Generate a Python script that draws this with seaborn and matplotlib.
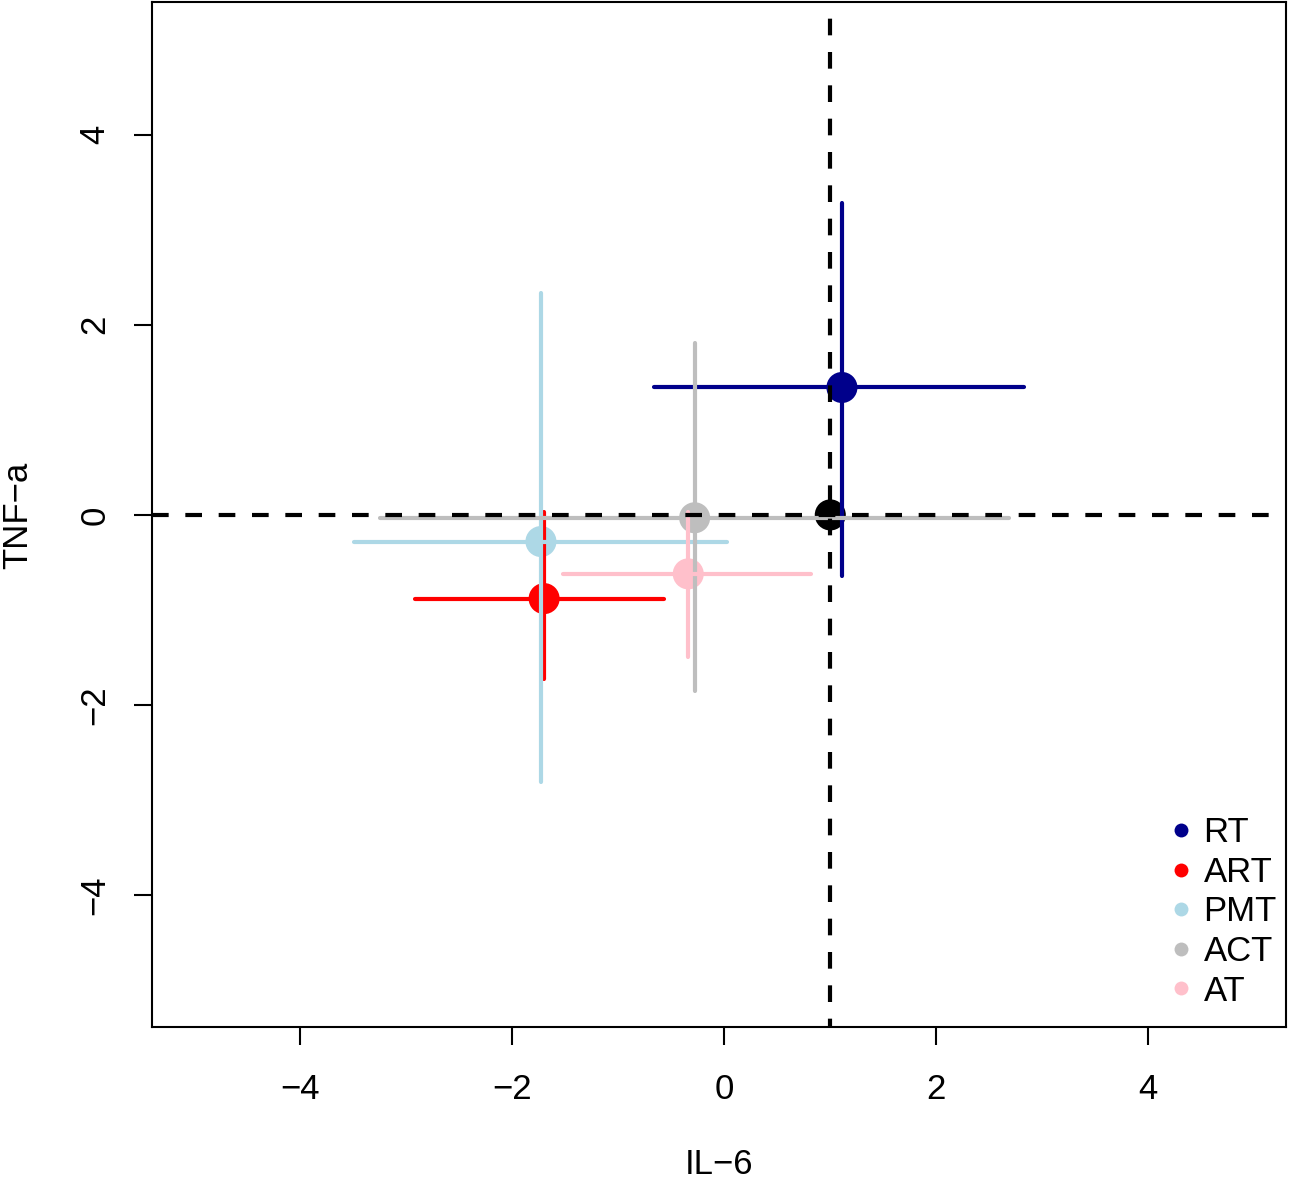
import numpy as np
import pandas as pd
import matplotlib
matplotlib.use("Agg")
import matplotlib.pyplot as plt
from matplotlib.lines import Line2D
import seaborn as sns

# group estimates with intervals (IL-6 on x, TNF-a on y)
groups = ["RT", "ART", "PMT", "ACT", "AT"]
il6 = [1.11, -1.70, -1.73, -0.28, -0.34]
il6_lo = [-0.66, -2.92, -3.49, -3.25, -1.52]
il6_hi = [2.83, -0.57, 0.03, 2.69, 0.82]
tnf = [1.34, -0.88, -0.28, -0.03, -0.62]
tnf_lo = [-0.64, -1.73, -2.81, -1.85, -1.49]
tnf_hi = [3.28, 0.03, 2.33, 1.81, 0.03]
colors = ["#00008B", "#FF0000", "#ADD8E6", "#BEBEBE", "#FFC0CB"]

# reference point
ref_x = [1.0]
ref_y = [0.0]

df = pd.DataFrame({"group": groups, "il6": il6, "tnf": tnf,
                   "il6_lo": il6_lo, "il6_hi": il6_hi,
                   "tnf_lo": tnf_lo, "tnf_hi": tnf_hi})
pal = dict(zip(groups, colors))

sns.set_style("ticks")
plt.rcParams["font.family"] = ["Liberation Sans", "DejaVu Sans"]
plt.rcParams["text.color"] = "black"
plt.rcParams["axes.labelcolor"] = "black"
plt.rcParams["xtick.color"] = "black"
plt.rcParams["ytick.color"] = "black"

fig = plt.figure(figsize=(12.99, 11.81), dpi=100)
ax = fig.add_axes([0.117, 0.130, 0.873, 0.868])

# points first
sns.scatterplot(data=df, x="il6", y="tnf", hue="group", palette=pal,
                s=500, edgecolor="none", legend=False, ax=ax, zorder=2)
ax.scatter(ref_x, ref_y, s=500, color="black", edgecolor="none", zorder=2)

# interval segments on top of points
for _, r in df.iterrows():
    c = pal[r["group"]]
    ax.hlines(r["tnf"], r["il6_lo"], r["il6_hi"], colors=c, linewidth=3,
              capstyle="round", zorder=3)
    ax.vlines(r["il6"], r["tnf_lo"], r["tnf_hi"], colors=c, linewidth=3,
              capstyle="round", zorder=3)

# reference lines
ax.axhline(0, color="black", linewidth=3, linestyle=(0, (4, 4)), zorder=4)
ax.axvline(1, color="black", linewidth=3, linestyle=(2, (4, 4)), zorder=4)

ax.set_xlim(-5.4, 5.3)
ax.set_ylim(-5.39, 5.39)
ticks = [-4, -2, 0, 2, 4]
ax.set_xticks(ticks)
ax.set_yticks(ticks)
ax.set_xticklabels([str(t).replace("-", "\u2212") for t in ticks])
ax.set_yticklabels([str(t).replace("-", "\u2212") for t in ticks],
                   rotation=90, va="center")
ax.tick_params(axis="both", length=13, width=1.5, labelsize=25,
               direction="out", color="black")
ax.tick_params(axis="x", pad=20)
ax.tick_params(axis="y", pad=16)
for sp in ax.spines.values():
    sp.set_visible(True)
    sp.set_linewidth(1.5)
    sp.set_color("black")

ax.set_xlabel("IL\u22126", fontsize=25, labelpad=30)
ax.set_ylabel("TNF\u2212a", fontsize=25, labelpad=32)

handles = [Line2D([0], [0], marker="o", linestyle="none", markersize=10,
                  markerfacecolor=c, markeredgecolor="none") for c in colors]
ax.legend(handles, groups, loc="lower right", bbox_to_anchor=(0.995, 0.016),
          frameon=False, fontsize=25,
          handletextpad=0.15, labelspacing=0.19, borderaxespad=0.0,
          handlelength=1.0, borderpad=0.1)

fig.savefig("out.png", dpi=100)
